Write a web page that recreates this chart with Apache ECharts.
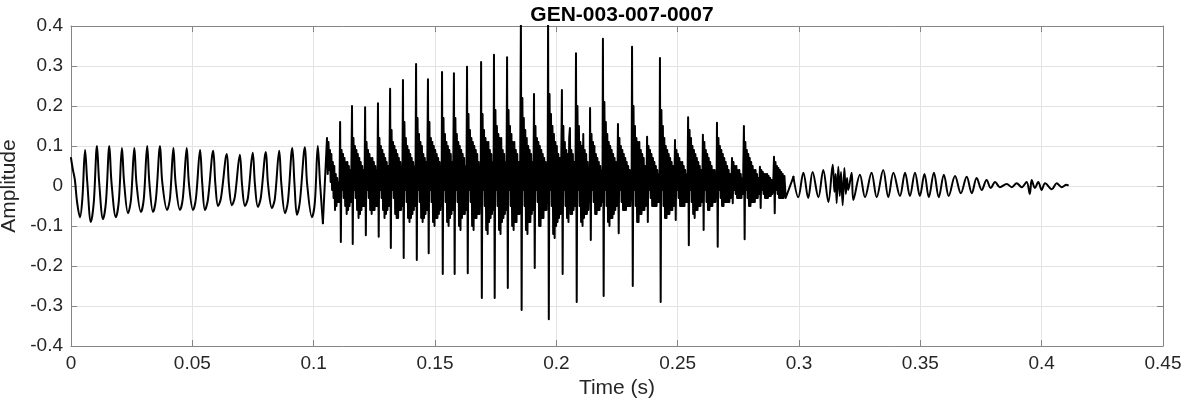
<!DOCTYPE html>
<html>
<head>
<meta charset="utf-8">
<script src="https://cdn.jsdelivr.net/npm/echarts@6/dist/echarts.min.js"></script>
<style>html,body{margin:0;padding:0;background:#fff}#chart{width:1182px;height:404px}</style>
</head>
<body>
<div id="chart"></div>
<script>
const chartTitle = 'GEN-003-007-0007';
const xName = 'Time (s)';
const yName = 'Amplitude';
const xTickLabels = ['0','0.05','0.1','0.15','0.2','0.25','0.3','0.35','0.4','0.45'];
const yTickLabels = ['-0.4','-0.3','-0.2','-0.1','0','0.1','0.2','0.3','0.4'];

// [time (s), amplitude]
const onsetPhase = [
[0.0000,0.070],[0.0008,0.040],[0.0016,0.015],[0.0025,-0.040],[0.0037,-0.078],[0.0047,-0.030],
[0.0058,0.090],[0.0067,0.010],[0.0082,-0.090],[0.0094,-0.040],
[0.0107,0.100],[0.0116,0.010],[0.0132,-0.083],[0.0144,-0.040],
[0.0158,0.100],[0.0167,0.008],[0.0185,-0.078],[0.0197,-0.038],
[0.0210,0.095],[0.0219,0.008],[0.0235,-0.068],[0.0247,-0.035],
[0.0261,0.095],[0.0270,0.006],[0.0288,-0.065],[0.0300,-0.032],
[0.0314,0.100],[0.0323,0.008],[0.0338,-0.065],[0.0350,-0.032],
[0.0367,0.100],[0.0376,0.010],[0.0396,-0.060],[0.0408,-0.030],
[0.0422,0.095],[0.0431,0.008],[0.0449,-0.060],[0.0461,-0.030],
[0.0477,0.095],[0.0486,0.006],[0.0503,-0.060],[0.0515,-0.030],
[0.0532,0.090],[0.0541,0.005],[0.0552,-0.060],[0.0564,-0.035],
[0.0586,0.088],[0.0595,0.004],[0.0606,-0.050],[0.0618,-0.030],
[0.0642,0.080],[0.0651,0.002],[0.0663,-0.048],[0.0675,-0.028],
[0.0696,0.078],[0.0705,0.002],[0.0717,-0.050],[0.0729,-0.030],
[0.0749,0.083],[0.0758,0.004],[0.0770,-0.052],[0.0782,-0.030],
[0.0803,0.085],[0.0812,0.004],[0.0828,-0.055],[0.0840,-0.032],
[0.0858,0.088],[0.0867,0.004],[0.0882,-0.068],[0.0894,-0.038],
[0.0912,0.095],[0.0921,0.005],[0.0931,-0.072],[0.0943,-0.040],
[0.0964,0.097],[0.0973,0.006],[0.0993,-0.078],[0.1005,-0.040],
[0.1017,0.100],[0.1026,0.010],[0.1038,-0.093]
];

const pulsePhase = [
[0.1055,0.120],[0.1058,0.030],[0.1061,0.110],[0.1064,0.040],[0.1067,0.090],[0.1070,0.010],[0.1073,0.080],[0.1076,-0.010],[0.1079,0.060],[0.1082,-0.030],[0.1085,0.050],[0.1088,-0.060],[0.1091,0.030],[0.1094,-0.050],[0.1097,0.020],[0.1100,-0.040],[0.1103,0.010],[0.1106,-0.040],
[0.1109,0.160],[0.1112,-0.140],[0.1115,0.090],[0.1118,-0.010],[0.1121,0.080],[0.1124,-0.030],[0.1127,0.070],[0.1130,-0.050],[0.1133,0.060],[0.1136,-0.070],[0.1139,0.060],[0.1142,-0.060],[0.1145,0.050],[0.1148,-0.050],[0.1151,0.040],[0.1154,-0.040],
[0.1158,0.200],[0.1161,-0.145],[0.1164,0.120],[0.1167,-0.010],[0.1170,0.100],[0.1173,-0.030],[0.1176,0.090],[0.1179,-0.060],[0.1182,0.080],[0.1185,-0.080],[0.1188,0.070],[0.1191,-0.070],[0.1194,0.060],[0.1197,-0.060],[0.1200,0.050],[0.1203,-0.050],[0.1206,0.040],[0.1209,-0.050],
[0.1212,0.197],[0.1215,-0.123],[0.1218,0.110],[0.1221,-0.010],[0.1224,0.090],[0.1227,-0.030],[0.1230,0.080],[0.1233,-0.060],[0.1236,0.070],[0.1239,-0.070],[0.1242,0.070],[0.1245,-0.060],[0.1248,0.060],[0.1251,-0.060],[0.1254,0.050],[0.1257,-0.050],[0.1260,0.040],[0.1262,-0.050],
[0.1265,0.207],[0.1268,-0.127],[0.1271,0.120],[0.1274,-0.010],[0.1277,0.100],[0.1280,-0.030],[0.1283,0.090],[0.1286,-0.060],[0.1289,0.080],[0.1292,-0.080],[0.1295,0.070],[0.1298,-0.070],[0.1301,0.060],[0.1304,-0.060],[0.1307,0.050],[0.1310,-0.050],[0.1312,0.030],
[0.1315,0.243],[0.1318,-0.155],[0.1321,0.140],[0.1324,-0.010],[0.1327,0.110],[0.1330,-0.030],[0.1333,0.100],[0.1336,-0.070],[0.1339,0.090],[0.1342,-0.080],[0.1345,0.080],[0.1348,-0.080],[0.1351,0.070],[0.1354,-0.060],[0.1357,0.060],[0.1360,-0.060],[0.1363,0.050],[0.1365,-0.050],
[0.1368,0.265],[0.1371,-0.180],[0.1374,0.160],[0.1377,-0.010],[0.1380,0.120],[0.1383,-0.040],[0.1386,0.100],[0.1389,-0.080],[0.1392,0.090],[0.1395,-0.090],[0.1398,0.080],[0.1401,-0.080],[0.1404,0.070],[0.1407,-0.070],[0.1410,0.060],[0.1413,-0.060],[0.1416,0.050],[0.1419,-0.050],
[0.1422,0.305],[0.1425,-0.185],[0.1428,0.170],[0.1431,-0.010],[0.1434,0.130],[0.1437,-0.040],[0.1440,0.110],[0.1443,-0.080],[0.1446,0.100],[0.1449,-0.090],[0.1452,0.080],[0.1455,-0.080],[0.1458,0.070],[0.1461,-0.070],[0.1464,0.060],[0.1467,-0.060],
[0.1471,0.267],[0.1474,-0.168],[0.1477,0.160],[0.1480,-0.010],[0.1483,0.120],[0.1486,-0.040],[0.1489,0.110],[0.1492,-0.090],[0.1495,0.100],[0.1498,-0.100],[0.1501,0.090],[0.1504,-0.080],[0.1507,0.080],[0.1510,-0.080],[0.1513,0.070],[0.1516,-0.070],[0.1519,0.060],[0.1522,-0.060],[0.1525,0.040],[0.1527,-0.050],
[0.1529,0.285],[0.1532,-0.220],[0.1535,0.170],[0.1538,-0.010],[0.1541,0.130],[0.1544,-0.040],[0.1547,0.110],[0.1550,-0.090],[0.1553,0.100],[0.1556,-0.100],[0.1559,0.090],[0.1562,-0.080],[0.1565,0.080],[0.1568,-0.070],[0.1571,0.060],[0.1574,-0.060],
[0.1578,0.282],[0.1581,-0.220],[0.1584,0.170],[0.1587,-0.010],[0.1590,0.130],[0.1593,-0.040],[0.1596,0.110],[0.1599,-0.100],[0.1602,0.100],[0.1605,-0.110],[0.1608,0.090],[0.1611,-0.080],[0.1614,0.080],[0.1617,-0.070],[0.1620,0.070],[0.1623,-0.070],[0.1626,0.050],[0.1629,-0.060],
[0.1632,0.298],[0.1635,-0.218],[0.1638,0.180],[0.1641,-0.010],[0.1644,0.140],[0.1647,-0.040],[0.1650,0.120],[0.1653,-0.100],[0.1656,0.110],[0.1659,-0.110],[0.1662,0.100],[0.1665,-0.080],[0.1668,0.090],[0.1671,-0.080],[0.1674,0.080],[0.1677,-0.070],[0.1680,0.060],[0.1683,-0.070],[0.1686,0.040],[0.1688,-0.050],
[0.1690,0.310],[0.1693,-0.280],[0.1696,0.180],[0.1699,-0.010],[0.1702,0.140],[0.1705,-0.050],[0.1708,0.120],[0.1711,-0.110],[0.1714,0.110],[0.1717,-0.120],[0.1720,0.110],[0.1723,-0.090],[0.1726,0.090],[0.1729,-0.080],[0.1732,0.080],[0.1735,-0.070],[0.1738,0.060],[0.1741,-0.060],
[0.1743,0.328],[0.1746,-0.280],[0.1749,0.190],[0.1752,-0.010],[0.1755,0.150],[0.1758,-0.050],[0.1761,0.130],[0.1764,-0.110],[0.1767,0.120],[0.1770,-0.120],[0.1773,0.120],[0.1776,-0.090],[0.1779,0.090],[0.1782,-0.080],[0.1785,0.080],[0.1788,-0.070],[0.1791,0.060],[0.1794,-0.060],
[0.1797,0.322],[0.1800,-0.255],[0.1803,0.190],[0.1806,-0.010],[0.1809,0.150],[0.1812,-0.050],[0.1815,0.130],[0.1818,-0.100],[0.1821,0.110],[0.1824,-0.110],[0.1827,0.110],[0.1830,-0.090],[0.1833,0.090],[0.1836,-0.090],[0.1839,0.080],[0.1842,-0.070],[0.1845,0.060],[0.1848,-0.070],[0.1851,0.040],
[0.1854,0.420],[0.1857,-0.310],[0.1860,0.220],[0.1863,-0.010],[0.1866,0.170],[0.1869,-0.050],[0.1872,0.140],[0.1875,-0.110],[0.1878,0.120],[0.1881,-0.120],[0.1884,0.100],[0.1887,-0.090],[0.1890,0.090],[0.1893,-0.090],[0.1896,0.080],[0.1899,-0.070],[0.1902,0.060],[0.1905,-0.060],
[0.1908,0.230],[0.1911,-0.205],[0.1914,0.150],[0.1917,-0.010],[0.1920,0.120],[0.1923,-0.040],[0.1926,0.110],[0.1929,-0.100],[0.1932,0.100],[0.1935,-0.100],[0.1938,0.090],[0.1941,-0.080],[0.1944,0.080],[0.1947,-0.080],[0.1950,0.070],[0.1953,-0.060],[0.1956,0.060],[0.1959,-0.060],[0.1962,0.040],[0.1964,-0.040],
[0.1966,0.420],[0.1969,-0.333],[0.1972,0.230],[0.1975,-0.010],[0.1978,0.180],[0.1981,-0.050],[0.1984,0.150],[0.1987,-0.120],[0.1990,0.130],[0.1993,-0.130],[0.1996,0.110],[0.1999,-0.100],[0.2002,0.100],[0.2005,-0.090],[0.2008,0.080],[0.2011,-0.080],[0.2014,0.070],[0.2017,-0.070],[0.2020,0.040],
[0.2023,0.240],[0.2026,-0.220],[0.2029,0.150],[0.2032,-0.010],[0.2035,0.110],[0.2038,-0.050],[0.2041,0.090],[0.2044,-0.080],[0.2047,0.080],[0.2050,-0.090],[0.2053,0.120],[0.2056,0.145],[0.2059,-0.070],[0.2062,0.090],[0.2065,-0.070],[0.2068,0.080],[0.2071,-0.060],[0.2074,0.060],[0.2077,-0.050],[0.2079,0.030],
[0.2081,0.332],[0.2084,-0.290],[0.2087,0.200],[0.2090,-0.010],[0.2093,0.150],[0.2096,-0.050],[0.2099,0.110],[0.2102,-0.090],[0.2105,0.100],[0.2108,-0.100],[0.2111,0.130],[0.2114,-0.080],[0.2117,0.090],[0.2120,-0.070],[0.2123,0.080],[0.2126,-0.070],[0.2129,0.060],[0.2132,-0.060],[0.2135,0.040],[0.2137,-0.040],
[0.2139,0.195],[0.2142,-0.135],[0.2145,0.130],[0.2148,-0.010],[0.2151,0.110],[0.2154,-0.040],[0.2157,0.100],[0.2160,-0.070],[0.2163,0.080],[0.2166,-0.070],[0.2169,0.070],[0.2172,-0.060],[0.2175,0.060],[0.2178,-0.060],[0.2181,0.050],[0.2184,-0.050],[0.2187,0.040],[0.2190,-0.040],
[0.2192,0.368],[0.2195,-0.275],[0.2198,0.210],[0.2201,-0.010],[0.2204,0.160],[0.2207,-0.050],[0.2210,0.130],[0.2213,-0.090],[0.2216,0.110],[0.2219,-0.100],[0.2222,0.100],[0.2225,-0.080],[0.2228,0.090],[0.2231,-0.080],[0.2234,0.080],[0.2237,-0.070],[0.2240,0.070],[0.2243,-0.060],[0.2246,0.060],[0.2249,-0.050],[0.2252,0.030],
[0.2254,0.155],[0.2257,-0.118],[0.2260,0.120],[0.2263,-0.010],[0.2266,0.100],[0.2269,-0.040],[0.2272,0.090],[0.2275,-0.060],[0.2278,0.080],[0.2281,-0.060],[0.2284,0.070],[0.2287,-0.060],[0.2290,0.060],[0.2293,-0.050],[0.2296,0.050],[0.2299,-0.050],[0.2302,0.040],[0.2305,-0.050],[0.2308,0.030],[0.2310,-0.030],
[0.2312,0.348],[0.2315,-0.250],[0.2318,0.200],[0.2321,-0.010],[0.2324,0.150],[0.2327,-0.050],[0.2330,0.120],[0.2333,-0.090],[0.2336,0.110],[0.2339,-0.090],[0.2342,0.110],[0.2345,-0.070],[0.2348,0.090],[0.2351,-0.070],[0.2354,0.080],[0.2357,-0.060],[0.2360,0.070],[0.2363,-0.060],[0.2366,0.050],[0.2369,-0.050],[0.2372,0.030],
[0.2374,0.123],[0.2377,-0.090],[0.2380,0.100],[0.2383,-0.010],[0.2386,0.090],[0.2389,-0.030],[0.2392,0.080],[0.2395,-0.050],[0.2398,0.070],[0.2401,-0.050],[0.2404,0.060],[0.2407,-0.050],[0.2410,0.050],[0.2413,-0.050],[0.2416,0.040],[0.2419,-0.040],[0.2422,0.030],[0.2425,-0.040],
[0.2427,0.320],[0.2430,-0.290],[0.2433,0.190],[0.2436,-0.010],[0.2439,0.150],[0.2442,-0.050],[0.2445,0.120],[0.2448,-0.080],[0.2451,0.100],[0.2454,-0.080],[0.2457,0.090],[0.2460,-0.070],[0.2463,0.080],[0.2466,-0.070],[0.2469,0.070],[0.2472,-0.060],[0.2475,0.060],[0.2478,-0.060],[0.2481,0.050],[0.2484,-0.050],[0.2487,0.030],
[0.2489,0.115],[0.2492,-0.085],[0.2495,0.090],[0.2498,-0.010],[0.2501,0.080],[0.2504,-0.030],[0.2507,0.070],[0.2510,-0.050],[0.2513,0.060],[0.2516,-0.050],[0.2519,0.060],[0.2522,-0.050],[0.2525,0.050],[0.2528,-0.050],[0.2531,0.040],[0.2534,-0.040],[0.2537,0.030],[0.2540,-0.040],
[0.2543,0.172],[0.2546,-0.148],[0.2549,0.140],[0.2552,-0.010],[0.2555,0.120],[0.2558,-0.040],[0.2561,0.100],[0.2564,-0.070],[0.2567,0.090],[0.2570,-0.080],[0.2573,0.080],[0.2576,-0.060],[0.2579,0.070],[0.2582,-0.060],[0.2585,0.060],[0.2588,-0.050],[0.2591,0.050],[0.2594,-0.050],[0.2597,0.040],[0.2600,-0.040],[0.2602,0.020],
[0.2604,0.128],[0.2607,-0.110],[0.2610,0.110],[0.2613,-0.010],[0.2616,0.090],[0.2619,-0.040],[0.2622,0.080],[0.2625,-0.060],[0.2628,0.070],[0.2631,-0.060],[0.2634,0.060],[0.2637,-0.050],[0.2640,0.050],[0.2643,-0.050],[0.2646,0.040],[0.2649,-0.040],[0.2652,0.040],[0.2655,-0.040],[0.2658,0.030],[0.2660,-0.030],
[0.2662,0.158],[0.2665,-0.152],[0.2668,0.120],[0.2671,-0.010],[0.2674,0.100],[0.2677,-0.030],[0.2680,0.090],[0.2683,-0.050],[0.2686,0.080],[0.2689,-0.050],[0.2692,0.070],[0.2695,-0.040],[0.2698,0.060],[0.2701,-0.040],[0.2704,0.050],[0.2707,-0.040],[0.2710,0.040],[0.2713,-0.040],[0.2716,0.030],[0.2719,-0.030],[0.2722,0.020],
[0.2724,0.070],[0.2727,-0.043],[0.2730,0.060],[0.2733,-0.010],[0.2736,0.050],[0.2739,-0.020],[0.2742,0.050],[0.2745,-0.030],[0.2748,0.040],[0.2751,-0.030],[0.2754,0.040],[0.2757,-0.030],[0.2760,0.030],[0.2763,-0.030],[0.2766,0.020],[0.2769,-0.020],
[0.2773,0.150],[0.2776,-0.133],[0.2779,0.110],[0.2782,-0.010],[0.2785,0.090],[0.2788,-0.030],[0.2791,0.080],[0.2794,-0.050],[0.2797,0.070],[0.2800,-0.050],[0.2803,0.060],[0.2806,-0.040],[0.2809,0.050],[0.2812,-0.040],[0.2815,0.040],[0.2818,-0.040],[0.2821,0.040],[0.2824,-0.030],[0.2827,0.030],[0.2830,-0.030],[0.2833,0.020],[0.2836,-0.020],
[0.2839,0.048],[0.2842,-0.055],[0.2845,0.040],[0.2848,-0.010],[0.2851,0.035],[0.2854,-0.020],[0.2857,0.030],[0.2860,-0.030],[0.2863,0.030],[0.2866,-0.030],[0.2869,0.030],[0.2872,-0.030],[0.2875,0.025],[0.2878,-0.025],[0.2881,0.020],[0.2884,-0.025],[0.2887,0.015],[0.2890,-0.020],[0.2894,0.010],
[0.2897,0.073],[0.2900,-0.068],[0.2903,0.060],[0.2906,-0.010],[0.2909,0.050],[0.2912,-0.020],[0.2915,0.045],[0.2918,-0.030],[0.2921,0.040],[0.2924,-0.030],[0.2927,0.035],[0.2930,-0.030],[0.2933,0.030],[0.2936,-0.030],[0.2940,0.025],[0.2945,-0.030],[0.2950,-0.035]
];

const decayPhase = [
[0.2977,0.023],[0.2997,-0.028],[0.3018,0.033],[0.3038,-0.030],[0.3056,0.035],[0.3080,-0.028],
[0.3100,0.040],[0.3121,-0.040],[0.3139,0.053],[0.3146,-0.015],[0.3151,0.030],[0.3155,-0.043],
[0.3162,0.048],[0.3168,-0.025],[0.3173,0.035],[0.3180,-0.048],[0.3187,0.045],[0.3193,-0.020],
[0.3198,0.020],[0.3203,-0.010],[0.3217,0.033],[0.3224,-0.035],[0.3251,0.028],[0.3272,-0.028],
[0.3299,0.033],[0.3320,-0.028],[0.3347,0.040],[0.3368,-0.028],[0.3389,0.033],[0.3416,-0.025],
[0.3437,0.033],[0.3457,-0.025],[0.3478,0.033],[0.3498,-0.025],[0.3517,0.030],[0.3535,-0.028],
[0.3556,0.033],[0.3576,-0.028],[0.3597,0.028],[0.3617,-0.025],[0.3643,0.025],[0.3667,-0.018],
[0.3691,0.023],[0.3712,-0.018],[0.3732,0.020],[0.3753,-0.010],[0.3773,0.015],[0.3790,-0.005],
[0.3808,0.010],[0.3828,-0.003],[0.3856,0.005],[0.3877,-0.003],[0.3897,0.007],[0.3918,-0.003],
[0.3938,0.010],[0.3951,-0.020],[0.3959,0.015],[0.3972,-0.005],[0.3986,0.010],[0.4000,-0.010],
[0.4014,0.007],[0.4042,-0.008],[0.4062,0.007],[0.4083,-0.003],[0.4102,0.003],[0.4108,0.002]
];

// join the three phases into one continuous trace
const pulseTrace = [onsetPhase[onsetPhase.length - 1]].concat(pulsePhase, [decayPhase[0]]);

const FONT = '"Liberation Sans", Arial, Helvetica, sans-serif';
const AXIS_COLOR = '#858585';
const TEXT_COLOR = '#262626';
const GRID_COLOR = '#e3e3e3';
const LINE_W = 2;

const xFmt = v => xTickLabels[Math.round(v / 0.05)];
const yFmt = v => yTickLabels[Math.round((v + 0.4) / 0.1)];

function xAx(pos, main) {
  return {
    type: 'value', min: 0, max: 0.45, interval: 0.05, position: pos,
    axisLine: { show: true, onZero: false, lineStyle: { color: AXIS_COLOR, width: 1 } },
    axisTick: { show: true, inside: true, length: 6, lineStyle: { color: AXIS_COLOR } },
    axisLabel: { show: main, formatter: xFmt, color: TEXT_COLOR, fontSize: 19, fontFamily: FONT, margin: 8 },
    splitLine: { show: main, lineStyle: { color: GRID_COLOR, width: 1 } },
    name: main ? xName : '', nameLocation: 'middle', nameGap: 30,
    nameTextStyle: { color: TEXT_COLOR, fontSize: 21, fontFamily: FONT }
  };
}
function yAx(pos, main) {
  return {
    type: 'value', min: -0.4, max: 0.4, interval: 0.1, position: pos,
    axisLine: { show: true, onZero: false, lineStyle: { color: AXIS_COLOR, width: 1 } },
    axisTick: { show: true, inside: true, length: 6, lineStyle: { color: AXIS_COLOR } },
    axisLabel: { show: main, formatter: yFmt, color: TEXT_COLOR, fontSize: 19, fontFamily: FONT, margin: 8 },
    splitLine: { show: main, lineStyle: { color: GRID_COLOR, width: 1 } },
    name: main ? yName : '', nameLocation: 'middle', nameGap: 41, nameRotate: 90,
    nameTextStyle: { color: TEXT_COLOR, fontSize: 21, fontFamily: FONT }
  };
}
function trace(data, smooth) {
  return {
    type: 'line', xAxisIndex: 0, yAxisIndex: 0, data: data, smooth: smooth,
    symbol: 'none', showSymbol: false, clip: true, silent: true,
    lineStyle: { color: '#000', width: LINE_W, join: 'round', cap: 'round' }
  };
}

const chart = echarts.init(document.getElementById('chart'), null, { renderer: 'canvas' });
chart.setOption({
  animation: false,
  backgroundColor: '#ffffff',
  title: {
    text: chartTitle, left: 617, top: 0, textAlign: 'center',
    textStyle: { color: '#000', fontSize: 21, fontWeight: 'bold', fontFamily: FONT }
  },
  grid: { left: 71, right: 19, top: 26, bottom: 58, containLabel: false, outerBoundsMode: 'none' },
  xAxis: [xAx('bottom', true), xAx('top', false)],
  yAxis: [yAx('left', true), yAx('right', false)],
  series: [trace(onsetPhase, 0.35), trace(pulseTrace, false), trace(decayPhase, 0.35)]
});
</script>
</body>
</html>
